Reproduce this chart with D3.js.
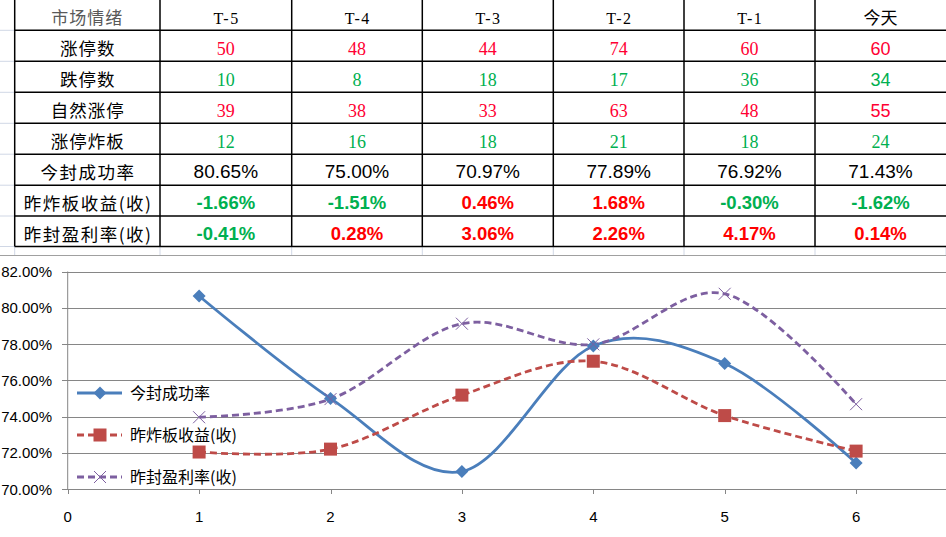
<!DOCTYPE html>
<html><head><meta charset="utf-8">
<script src="https://cdn.jsdelivr.net/npm/d3@7/dist/d3.min.js"></script>
<style>body{margin:0;background:#fff;overflow:hidden}svg{display:block}</style>
</head><body><svg id="c" width="946" height="537"></svg>
<script>
// ---- data ----
const headerLabel = "市场情绪";
const categories = ["T-5","T-4","T-3","T-2","T-1","今天"];
const rowNames = ["涨停数","跌停数","自然涨停","涨停炸板","今封成功率","昨炸板收益(收)","昨封盈利率(收)"];
const limitUp = [50,48,44,74,60,60];
const limitDown = [10,8,18,17,36,34];
const naturalUp = [39,38,33,63,48,55];
const brokenBoard = [12,16,18,21,18,24];
const sealRate = ["80.65%","75.00%","70.97%","77.89%","76.92%","71.43%"];
const brokenReturn = ["-1.66%","-1.51%","0.46%","1.68%","-0.30%","-1.62%"];
const sealProfit = ["-0.41%","0.28%","3.06%","2.26%","4.17%","0.14%"];

const xPoints = [1,2,3,4,5,6];
const seriesNames = ["今封成功率","昨炸板收益(收)","昨封盈利率(收)"];
const seriesSeal = [80.65,75.00,70.97,77.89,76.92,71.43];
const seriesBroken = [72.04,72.2,75.18,77.05,74.05,72.09];
const seriesProfit = [73.96,74.96,79.12,77.98,80.77,74.68];
const yTicks = [70,72,74,76,78,80,82];
const xTicks = [0,1,2,3,4,5,6];

const svg = d3.select("#c");
const RED = "#FF0033", GREEN = "#00B050";

// ---- table ----
const colX = [14.7,160,291.7,422.3,553.3,684,815,946];
const rowY = [-1,30.3,61.3,92.3,123.3,154.2,185.2,216,246.5];
const light = "#D0D7E5";
rowY.slice(1).forEach(y=>svg.append("line").attr("x1",0).attr("x2",colX[0]).attr("y1",y).attr("y2",y).attr("stroke",light).attr("stroke-width",1));
colX.forEach(x=>svg.append("line").attr("x1",x).attr("x2",x).attr("y1",246).attr("y2",255).attr("stroke",light));
svg.append("line").attr("x1",0).attr("x2",946).attr("y1",255.5).attr("y2",255.5).attr("stroke","#A0A0A0");

const grid = svg.append("g").attr("stroke","#000").attr("stroke-width",1.5);
rowY.forEach(y=>grid.append("line").attr("x1",colX[0]).attr("x2",946).attr("y1",y).attr("y2",y));
colX.slice(0,7).forEach(x=>grid.append("line").attr("x1",x).attr("x2",x).attr("y1",-1).attr("y2",rowY[8]));

const cx = i => (colX[i]+colX[i+1])/2;
const base = r => rowY[r+1]-7;
const cjk = "'Noto Sans CJK SC', sans-serif";
const serif = "'Liberation Serif', 'DejaVu Serif', serif";
const sans = "'Liberation Sans', Arial, sans-serif";

function txt(x,y,s,font,size,color,weight,ls){
  svg.append("text").attr("x",x).attr("y",y).attr("text-anchor","middle")
    .attr("font-family",font).attr("font-size",size).attr("fill",color)
    .attr("letter-spacing",ls||0)
    .attr("font-weight",weight||"normal").text(s);
}
// header
txt(cx(0),base(0)+1,headerLabel,cjk,17,"#595959",null,1);
categories.forEach((c,i)=>txt(cx(i+1)+(i===5?0:0.75),base(0)+1,c,i===5?cjk:serif,i===5?17:16,"#000",null,i===5?0:1.5));
// row labels
rowNames.forEach((n,r)=>txt(cx(0)+(r<4?0.5:0.75),base(r+1)+1,n,cjk,17.5,"#000",null,r<4?1:1.5));
const intRows = [[limitUp,RED],[limitDown,GREEN],[naturalUp,RED],[brokenBoard,GREEN]];
intRows.forEach(([vals,col],r)=>vals.forEach((v,i)=>{
  const f = (i===5 && r<3) ? sans : serif;
  txt(cx(i+1),base(r+1)+1,v,f,18,col);
}));
sealRate.forEach((v,i)=>txt(cx(i+1),base(5),v,sans,19,"#000"));
[brokenReturn,sealProfit].forEach((vals,k)=>vals.forEach((v,i)=>{
  txt(cx(i+1),base(6+k),v,sans,18.5,v.startsWith("-")?GREEN:"#FF0000","bold");
}));

// ---- chart ----
const x = d3.scaleLinear().domain([0,7]).range([67.7,67.7+7*131.4]);
const y = d3.scaleLinear().domain([70,82]).range([489,271.5]);
const gc = "#868686";
const cg = svg.append("g");
yTicks.forEach(t=>{
  cg.append("line").attr("x1",62).attr("x2",946).attr("y1",Math.round(y(t))+0.5).attr("y2",Math.round(y(t))+0.5).attr("stroke",gc);
  cg.append("text").attr("x",52).attr("y",y(t)+5.5).attr("text-anchor","end")
    .attr("font-family",sans).attr("font-size",15).attr("fill","#000").text(t.toFixed(2)+"%");
});
cg.append("line").attr("x1",x(0)).attr("x2",x(0)).attr("y1",y(82)).attr("y2",y(70)).attr("stroke",gc);
xTicks.forEach(t=>{
  cg.append("line").attr("x1",Math.round(x(t))+0.5).attr("x2",Math.round(x(t))+0.5).attr("y1",y(70)).attr("y2",y(70)+5).attr("stroke",gc);
  cg.append("text").attr("x",x(t)).attr("y",522).attr("text-anchor","middle")
    .attr("font-family",sans).attr("font-size",15).attr("fill","#000").text(t);
});

const colors = ["#4A7EBB","#BE4B48","#7D5FA0"];
const dashes = [null,"7 4","7 4"];
const allSeries = [seriesSeal,seriesBroken,seriesProfit];
const line = d3.line().x(d=>x(d[0])).y(d=>y(d[1])).curve(d3.curveCatmullRom.alpha(0));

function marker(g,k,px,py){
  if(k===0){
    g.append("path").attr("d",`M${px},${py-6.5}L${px+6.5},${py}L${px},${py+6.5}L${px-6.5},${py}Z`).attr("fill",colors[0]);
  } else if(k===1){
    g.append("rect").attr("x",px-6.5).attr("y",py-6.5).attr("width",13).attr("height",13).attr("fill",colors[1]);
  } else {
    g.append("path").attr("d",`M${px-6},${py-6}L${px+6},${py+6}M${px-6},${py+6}L${px+6},${py-6}`).attr("stroke",colors[2]).attr("stroke-width",1).attr("fill","none");
  }
}
allSeries.forEach((vals,k)=>{
  const pts = vals.map((v,i)=>[xPoints[i],v]);
  cg.append("path").attr("d",line(pts)).attr("fill","none").attr("stroke",colors[k])
    .attr("stroke-width",2.8).attr("stroke-dasharray",dashes[k]);
});
allSeries.forEach((vals,k)=>{
  vals.forEach((v,i)=>marker(cg,k,x(xPoints[i]),y(v)));
});

// legend
const legY = [393,435,477];
seriesNames.forEach((n,k)=>{
  cg.append("line").attr("x1",77).attr("x2",122).attr("y1",legY[k]).attr("y2",legY[k])
    .attr("stroke",colors[k]).attr("stroke-width",2.8).attr("stroke-dasharray",dashes[k]);
  marker(cg,k,100,legY[k]);
  cg.append("text").attr("x",130).attr("y",legY[k]+6).attr("font-family",cjk)
    .attr("font-size",16).attr("fill","#000").text(n);
});
</script></body></html>
